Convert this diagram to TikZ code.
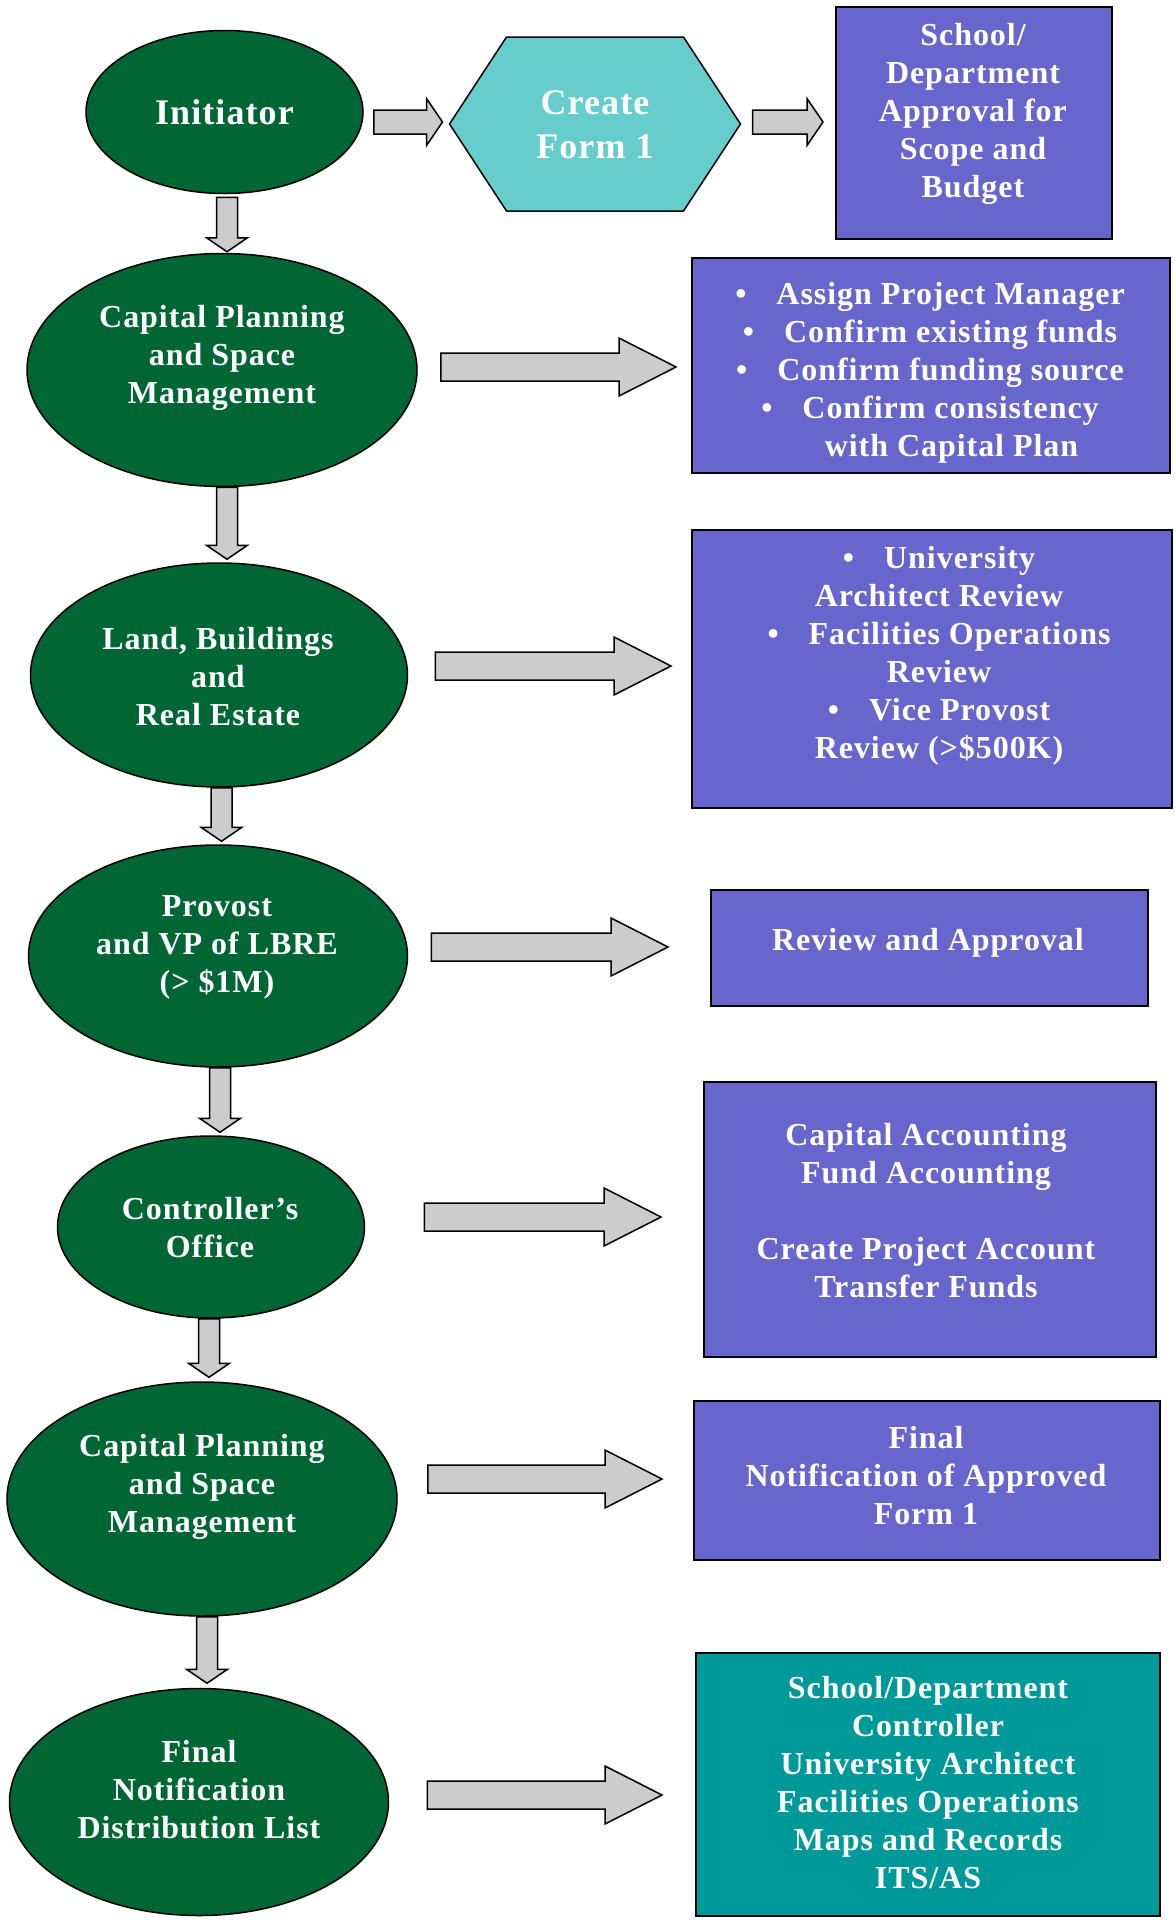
\documentclass[tikz,border=0pt]{standalone}
\usepackage{fontspec}
\newfontfamily\dfont{Liberation Serif}[LetterSpace=3]
\usetikzlibrary{calc,backgrounds,shapes.geometric}
\definecolor{lgreen}{HTML}{006633}
\definecolor{lpurple}{HTML}{6666CC}
\definecolor{hexcol}{HTML}{66CCCC}
\definecolor{tealbox}{HTML}{009999}
\definecolor{agray}{HTML}{CCCCCC}
\begin{document}
\begin{tikzpicture}[x=1pt,y=-1pt,
  ell/.style={ellipse, draw=black, line width=1.5pt, fill=lgreen, inner sep=0pt},
  rbox/.style={rectangle, draw=black, line width=2pt, fill=lpurple, inner sep=0pt},
  hexn/.style={rectangle, inner sep=0pt, outer sep=0pt},
  txt/.style={text=white, align=center, inner sep=0pt, font=\dfont\bfseries\fontsize{32}{38}\selectfont},
  bigtxt/.style={txt, font=\dfont\bfseries\fontsize{36}{44}\selectfont},
  blk/.style={draw=black, line width=1.5pt, fill=agray, line join=miter},
  hblock/.style n args={3}{to path={let \p1=(\tikztostart), \p2=(\tikztotarget) in
     (\x1,\y2+#1) -- (\x2-#3,\y2+#1) -- (\x2-#3,\y2+#2) -- (\x2,\y2) -- (\x2-#3,\y2-#2) -- (\x2-#3,\y2-#1) -- (\x1,\y2-#1) -- cycle}},
  vblock/.style n args={3}{to path={let \p1=(\tikztostart), \p2=(\tikztotarget) in
     (\x1-#1,\y1) -- (\x1-#1,\y2+#3) -- (\x1-#2,\y2+#3) -- (\x1,\y2) -- (\x1+#2,\y2+#3) -- (\x1+#1,\y2+#3) -- (\x1+#1,\y1) -- cycle}},
  small/.style={hblock={12pt}{23.5pt}{16pt}},
  big/.style={hblock={14pt}{29pt}{57pt}},
  down/.style={vblock={10.5pt}{20.5pt}{14pt}}
]
\useasboundingbox (0,0) rectangle (1175,1923);

% ellipses
\node[ell, minimum width=277pt, minimum height=163pt] (init) at (224.5,112) {};
\node[ell, minimum width=390pt, minimum height=233pt] (cpsmA) at (222,370) {};
\node[ell, minimum width=377pt, minimum height=224pt] (lbre) at (219,675) {};
\node[ell, minimum width=379pt, minimum height=222pt] (prov) at (218,956) {};
\node[ell, minimum width=307pt, minimum height=182pt] (ctrl) at (211,1227) {};
\node[ell, minimum width=390pt, minimum height=234pt] (cpsmB) at (202,1499) {};
\node[ell, minimum width=379pt, minimum height=227pt] (final) at (199,1802) {};

% hexagon
\node[hexn, minimum width=291pt, minimum height=174pt] (hex) at (595,124) {};
\begin{scope}[on background layer]
  \fill[white] (0,0) rectangle (1175,1923);
  \draw[fill=hexcol, line width=1.5pt, line join=miter]
    (hex.west) -- ([xshift=57pt]hex.north west) -- ([xshift=-57pt]hex.north east)
    -- (hex.east) -- ([xshift=-57pt]hex.south east) -- ([xshift=57pt]hex.south west) -- cycle;
\end{scope}

% boxes
\node[rbox, minimum width=276pt, minimum height=232pt] (box1) at (974,123) {};
\node[rbox, minimum width=478pt, minimum height=215pt] (box2) at (931,365.5) {};
\node[rbox, minimum width=480pt, minimum height=278pt] (box3) at (932,669) {};
\node[rbox, minimum width=437pt, minimum height=116pt] (box4) at (929.5,948) {};
\node[rbox, minimum width=452pt, minimum height=275pt] (box5) at (930,1219.5) {};
\node[rbox, minimum width=466pt, minimum height=159pt] (box6) at (927,1480.5) {};
\node[rbox, fill=tealbox, minimum width=464pt, minimum height=263pt] (box7) at (928,1784.5) {};

% texts
\node[bigtxt] (hext) at (595,125) {Create\\Form 1};
\node[bigtxt] (initt) at (224.5,112) {Initiator};
\node[txt] (cpsmAt) at (222,358) {Capital Planning\\and Space\\Management};
\node[txt] (lbret) at (218,677) {Land, Buildings\\and\\Real Estate};
\node[txt] (provt) at (217,947) {Provost\\and VP of LBRE\\(> \$1M)};
\node[txt] (ctrlt) at (210,1228) {Controller’s\\Office};
\node[txt] (cpsmBt) at (202,1486.5) {Capital Planning\\and Space\\Management};
\node[txt] (finalt) at (199,1790) {Final\\Notification\\Distribution List};

\node[txt] (box1t) at (973,114) {School/\\Department\\Approval for\\Scope and\\Budget};
\node[txt] (box2t) at (930,373) {•\hspace{30pt}Assign Project Manager\\•\hspace{30pt}Confirm existing funds\\•\hspace{30pt}Confirm funding source\\•\hspace{30pt}Confirm consistency\\\hspace*{43pt}with Capital Plan};
\node[txt] (box3t) at (939,656) {•\hspace{30pt}University\\Architect Review\\•\hspace{30pt}Facilities Operations\\Review\\•\hspace{30pt}Vice Provost\\Review (>\$500K)};
\node[txt] (box4t) at (928,943) {Review and Approval};
\node[txt] (box5t) at (926,1210.5) {Capital Accounting\\Fund Accounting\\[38pt]Create Project Account\\Transfer Funds};
\node[txt] (box6t) at (926,1476) {Final\\Notification of Approved\\Form 1};
\node[txt] (box7t) at (928,1783) {School/Department\\Controller\\University Architect\\Facilities Operations\\Maps and Records\\ITS/AS};

% horizontal block arrows
\draw[blk] ($(init.east)+(10,0)$) to[small] ($(hex.west)+(-7,-2)$);
\draw[blk] ($(hex.east)+(12,0)$) to[small] ($(box1.west)+(-12,-1)$);
\draw[blk] ($(cpsmA.east)+(23,0)$) to[big] ($(box2.west)+(-15,1.5)$);
\draw[blk] ($(lbre.east)+(27,0)$) to[big] ($(box3.west)+(-20,-3)$);
\draw[blk] ($(prov.east)+(23,0)$) to[big] ($(box4.west)+(-42,-1)$);
\draw[blk] ($(ctrl.east)+(59,0)$) to[big] ($(box5.west)+(-42,-2.5)$);
\draw[blk] ($(cpsmB.east)+(30,0)$) to[big] ($(box6.west)+(-31,-1.5)$);
\draw[blk] ($(final.east)+(38,0)$) to[big] ($(box7.west)+(-33,10.5)$);

% vertical block arrows
\draw[blk] ($(init.south)+(2.5,3)$) to[down] ($(cpsmA.north)+(0,-1)$);
\draw[blk] ($(cpsmA.south)+(5,0)$) to[down] ($(lbre.north)+(0,-3)$);
\draw[blk] ($(lbre.south)+(2.5,0)$) to[down] ($(prov.north)+(0,-3)$);
\draw[blk] ($(prov.south)+(2,0)$) to[down] ($(ctrl.north)+(0,-3)$);
\draw[blk] ($(ctrl.south)+(-2,0)$) to[down] ($(cpsmB.north)+(0,-4)$);
\draw[blk] ($(cpsmB.south)+(5,0)$) to[down] ($(final.north)+(0,-4.5)$);
\end{tikzpicture}
\end{document}
